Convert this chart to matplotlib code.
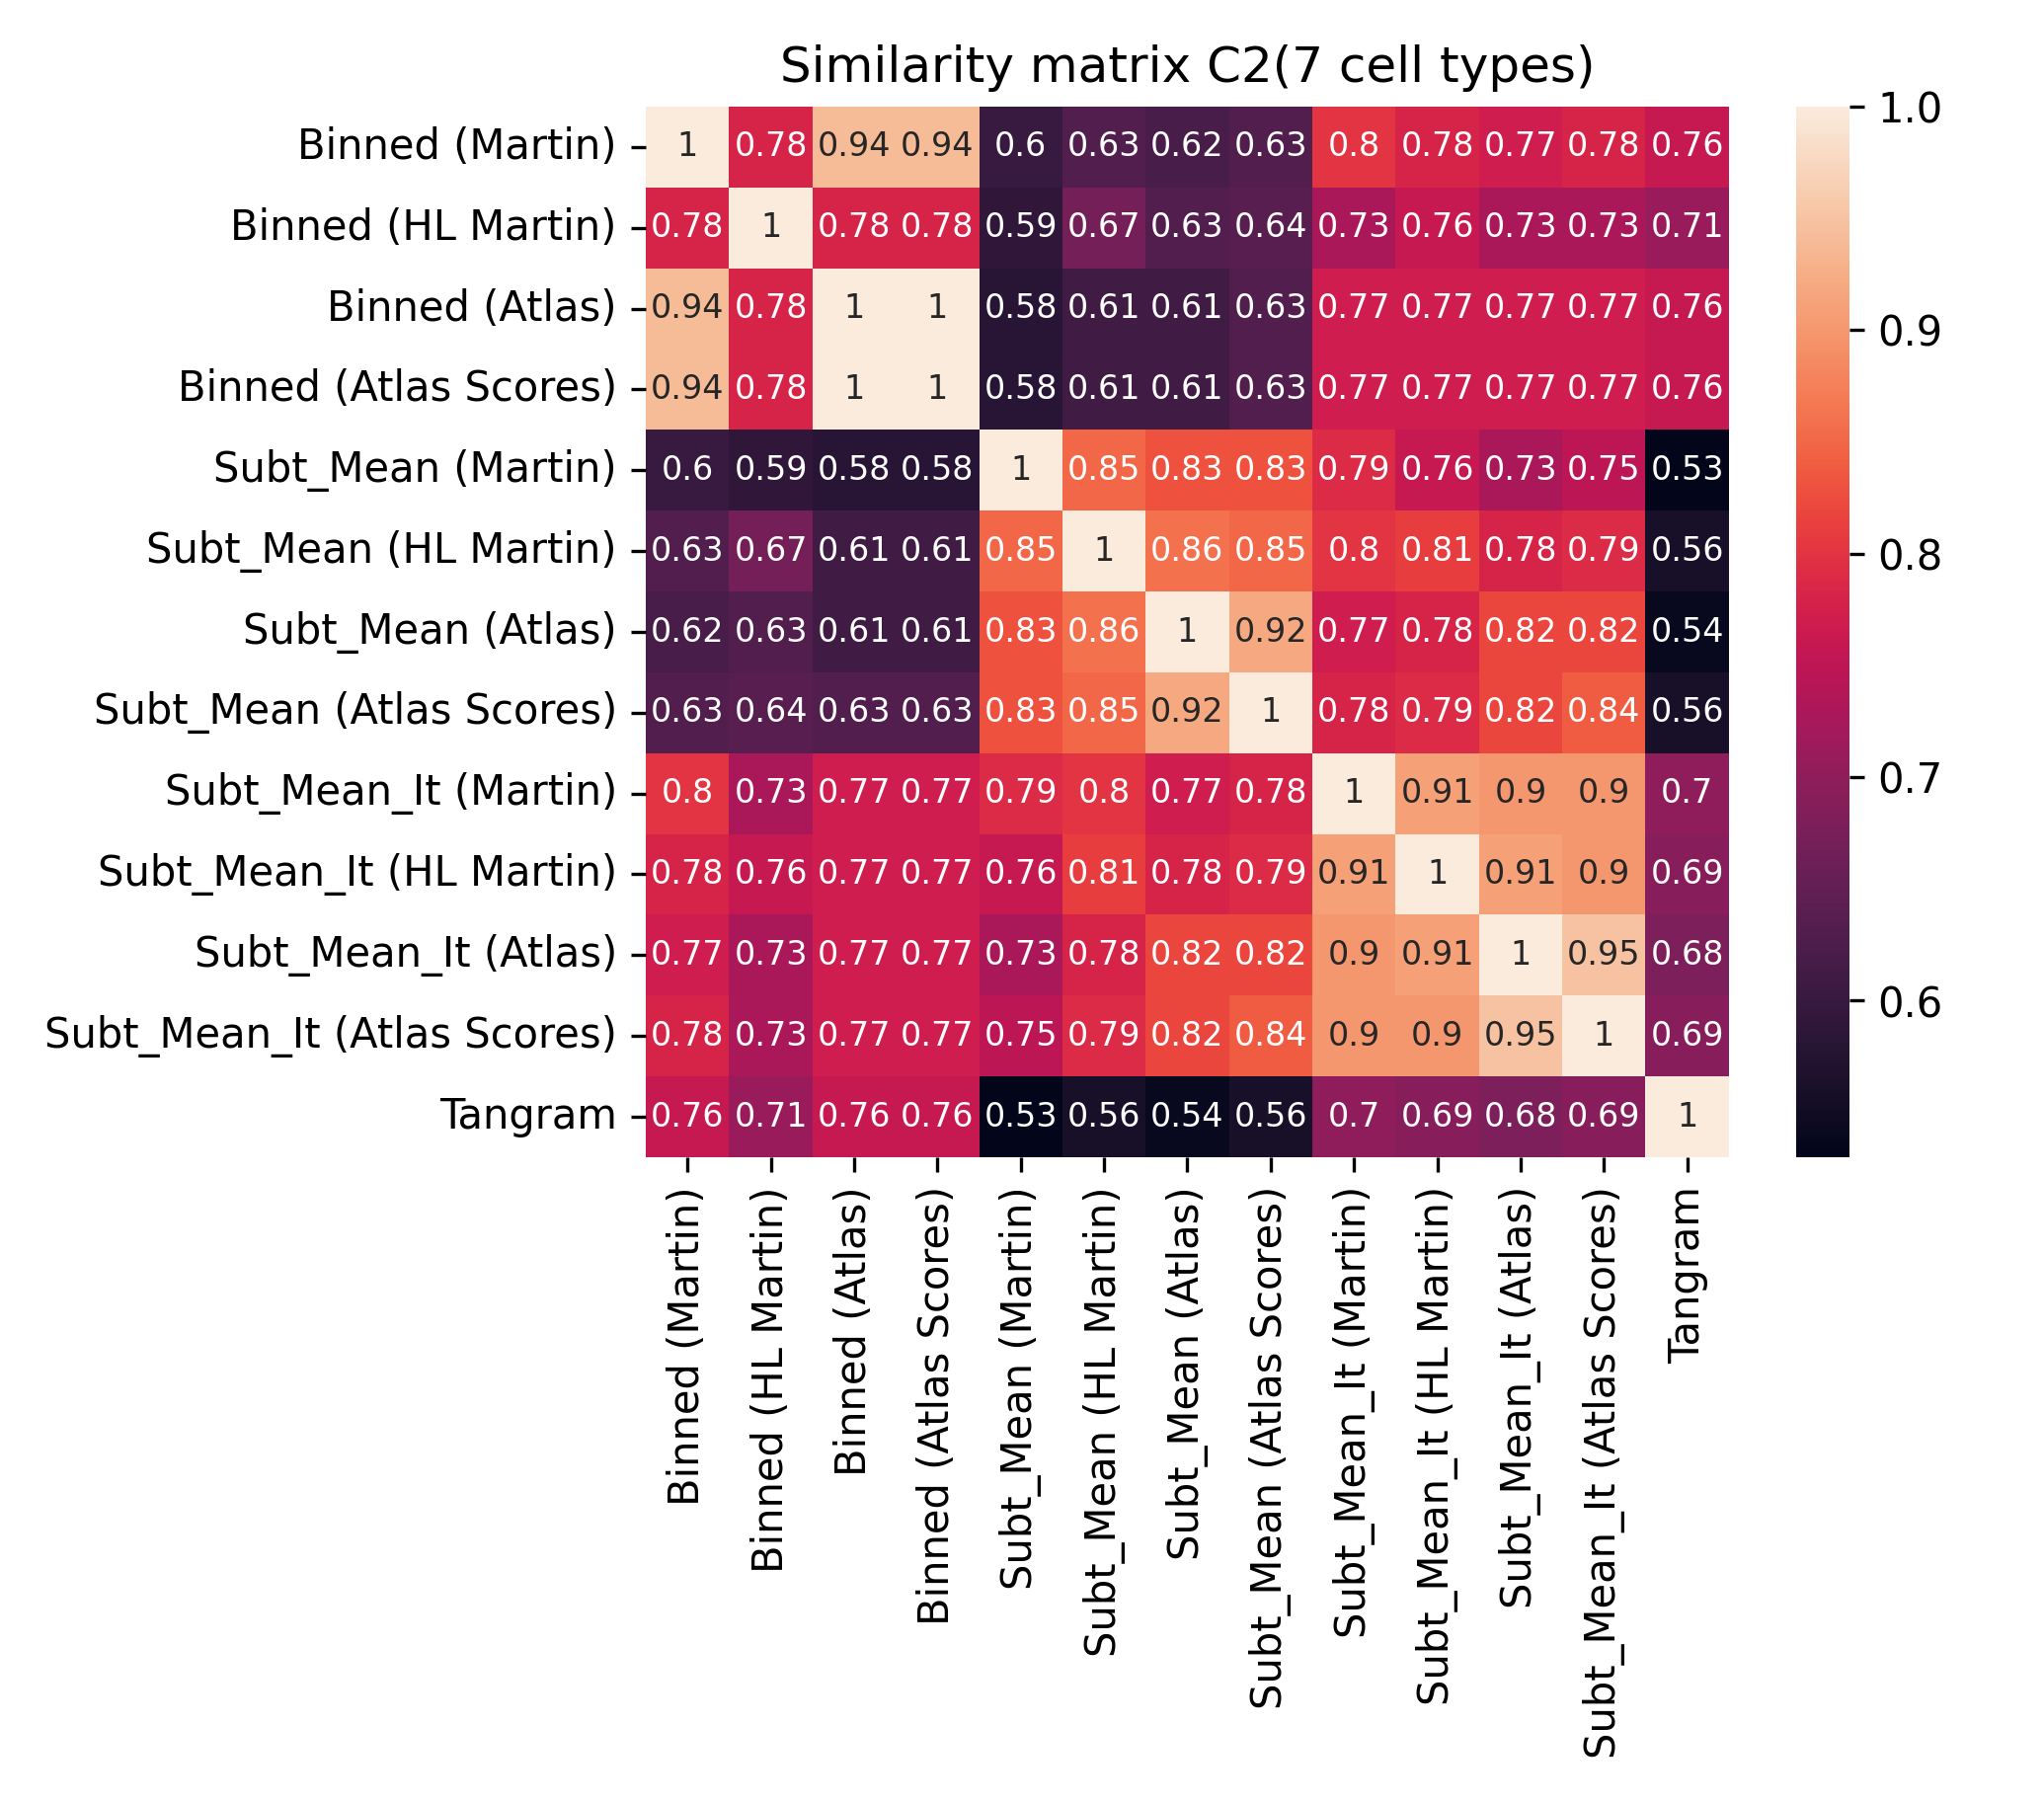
import matplotlib
matplotlib.use("Agg")
import matplotlib.pyplot as plt
import seaborn as sns
import numpy as np

labels = ["Binned (Martin)", "Binned (HL Martin)", "Binned (Atlas)", "Binned (Atlas Scores)",
          "Subt_Mean (Martin)", "Subt_Mean (HL Martin)", "Subt_Mean (Atlas)", "Subt_Mean (Atlas Scores)",
          "Subt_Mean_It (Martin)", "Subt_Mean_It (HL Martin)", "Subt_Mean_It (Atlas)",
          "Subt_Mean_It (Atlas Scores)", "Tangram"]

values = [
    [1, 0.78, 0.94, 0.94, 0.60, 0.63, 0.62, 0.63, 0.80, 0.78, 0.77, 0.78, 0.76],
    [0.78, 1, 0.78, 0.78, 0.59, 0.67, 0.63, 0.64, 0.73, 0.76, 0.73, 0.73, 0.71],
    [0.94, 0.78, 1, 1, 0.58, 0.61, 0.61, 0.63, 0.77, 0.77, 0.77, 0.77, 0.76],
    [0.94, 0.78, 1, 1, 0.58, 0.61, 0.61, 0.63, 0.77, 0.77, 0.77, 0.77, 0.76],
    [0.60, 0.59, 0.58, 0.58, 1, 0.85, 0.83, 0.83, 0.79, 0.76, 0.73, 0.75, 0.53],
    [0.63, 0.67, 0.61, 0.61, 0.85, 1, 0.86, 0.85, 0.80, 0.81, 0.78, 0.79, 0.56],
    [0.62, 0.63, 0.61, 0.61, 0.83, 0.86, 1, 0.92, 0.77, 0.78, 0.82, 0.82, 0.54],
    [0.63, 0.64, 0.63, 0.63, 0.83, 0.85, 0.92, 1, 0.78, 0.79, 0.82, 0.84, 0.56],
    [0.80, 0.73, 0.77, 0.77, 0.79, 0.80, 0.77, 0.78, 1, 0.91, 0.90, 0.90, 0.70],
    [0.78, 0.76, 0.77, 0.77, 0.76, 0.81, 0.78, 0.79, 0.91, 1, 0.91, 0.90, 0.69],
    [0.77, 0.73, 0.77, 0.77, 0.73, 0.78, 0.82, 0.82, 0.90, 0.91, 1, 0.95, 0.68],
    [0.78, 0.73, 0.77, 0.77, 0.75, 0.79, 0.82, 0.84, 0.90, 0.90, 0.95, 1, 0.69],
    [0.76, 0.71, 0.76, 0.76, 0.53, 0.56, 0.54, 0.56, 0.70, 0.69, 0.68, 0.69, 1],
]

fig, ax = plt.subplots(figsize=(6.9, 6.087), dpi=300)
sns.heatmap(np.array(values), annot=True, xticklabels=labels, yticklabels=labels,
            cmap="rocket", ax=ax, annot_kws={"size": 8})
ax.set_title("Similarity matrix C2(7 cell types)", fontsize=12)
ax.tick_params(labelsize=10)
plt.setp(ax.get_xticklabels(), rotation=90)
plt.setp(ax.get_yticklabels(), rotation=0)
fig.tight_layout()
fig.savefig("out.png", dpi=300)
